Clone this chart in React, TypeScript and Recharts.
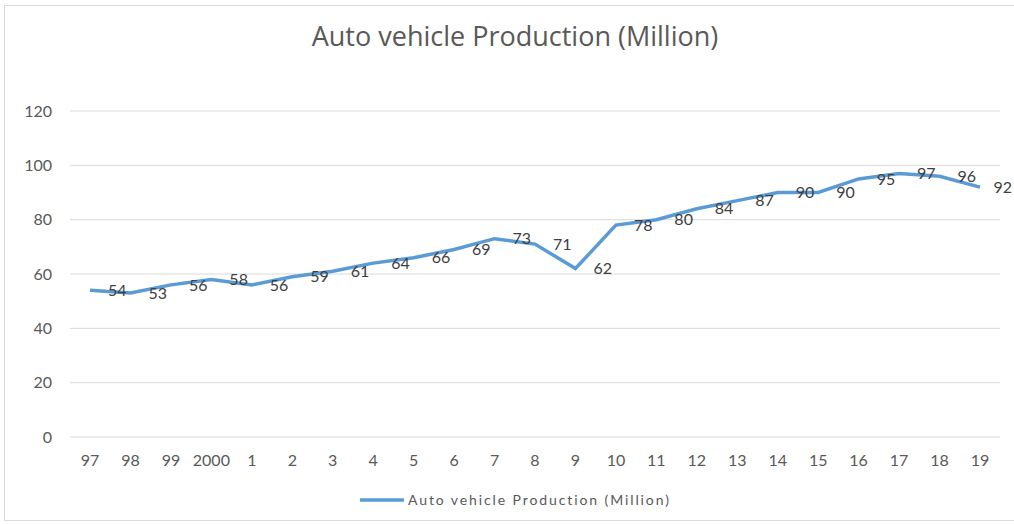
import { LineChart, Line, XAxis, YAxis, CartesianGrid, LabelList } from 'recharts';

const years = [
  '97', '98', '99', '2000', '1', '2', '3', '4', '5', '6', '7', '8',
  '9', '10', '11', '12', '13', '14', '15', '16', '17', '18', '19',
];

const production = [
  54, 53, 56, 58, 56, 59, 61, 64, 66, 69, 73, 71,
  62, 78, 80, 84, 87, 90, 90, 95, 97, 96, 92,
];

const yTicks = [0, 20, 40, 60, 80, 100, 120];

const SERIES_NAME = 'Auto vehicle Production (Million)';
const LINE_COLOR = '#5B9BD5';
const FONT = 'Lato, "Open Sans", sans-serif';
const CHART_W = 1014;

const chartData = years.map((year, i) => ({ year, value: production[i] }));

// data label to the right of each point; the last one is pulled in so it stays on the page
const renderLabel = (props: any) => {
  const { x, y, value } = props;
  const textW = String(value).length * 9.3;
  const lx = Math.min(x + 18, CHART_W - 2 - textW);
  return (
    <text
      x={lx}
      y={y}
      dy="0.355em"
      fill="#404040"
      fontSize={16}
      fontFamily={FONT}
      textAnchor="start"
    >
      {value}
    </text>
  );
};

export default function App() {
  return (
    <div
      style={{
        position: 'absolute',
        left: 0,
        top: 0,
        width: 1014,
        height: 524,
        overflow: 'hidden',
        background: '#fff',
        fontFamily: FONT,
      }}
    >
      {/* chart frame, cut off at the right edge like the screenshot */}
      <div
        style={{
          position: 'absolute',
          left: 4,
          top: 5,
          width: 1030,
          height: 514,
          border: '1px solid #d9d9d9',
        }}
      />

      <div
        style={{
          position: 'absolute',
          left: 0,
          top: 17,
          width: 1030,
          textAlign: 'center',
          fontSize: 27,
          fontFamily: '"Open Sans", sans-serif',
          color: '#595959',
        }}
      >
        {SERIES_NAME}
      </div>

      <div style={{ position: 'absolute', left: 0, top: 0 }}>
        <LineChart
          width={CHART_W}
          height={524}
          data={chartData}
          margin={{ top: 111, right: 14, bottom: 57, left: 0 }}
        >
          <CartesianGrid vertical={false} stroke="#d9d9d9" strokeWidth={1} />
          <XAxis
            dataKey="year"
            height={30}
            axisLine={false}
            tickLine={false}
            tickMargin={12}
            interval={0}
            padding={{ left: 20, right: 20 }}
            tick={{ fill: '#595959', fontSize: 16, fontFamily: FONT }}
          />
          <YAxis
            width={70}
            domain={[0, 120]}
            ticks={yTicks}
            axisLine={false}
            tickLine={false}
            tickMargin={12}
            tick={{ fill: '#595959', fontSize: 16, fontFamily: FONT }}
          />
          <Line
            type="linear"
            dataKey="value"
            name={SERIES_NAME}
            stroke={LINE_COLOR}
            strokeWidth={3.5}
            dot={false}
            isAnimationActive={false}
          >
            <LabelList dataKey="value" content={renderLabel} />
          </Line>
        </LineChart>
      </div>

      {/* legend */}
      <div
        style={{
          position: 'absolute',
          left: 360,
          top: 491,
          display: 'flex',
          alignItems: 'center',
          fontSize: 14,
          letterSpacing: 1.9,
          color: '#595959',
        }}
      >
        <svg width={46} height={10}>
          <line x1={0} y1={5} x2={44} y2={5} stroke={LINE_COLOR} strokeWidth={3.5} />
        </svg>
        <span style={{ marginLeft: 2 }}>{SERIES_NAME}</span>
      </div>
    </div>
  );
}
